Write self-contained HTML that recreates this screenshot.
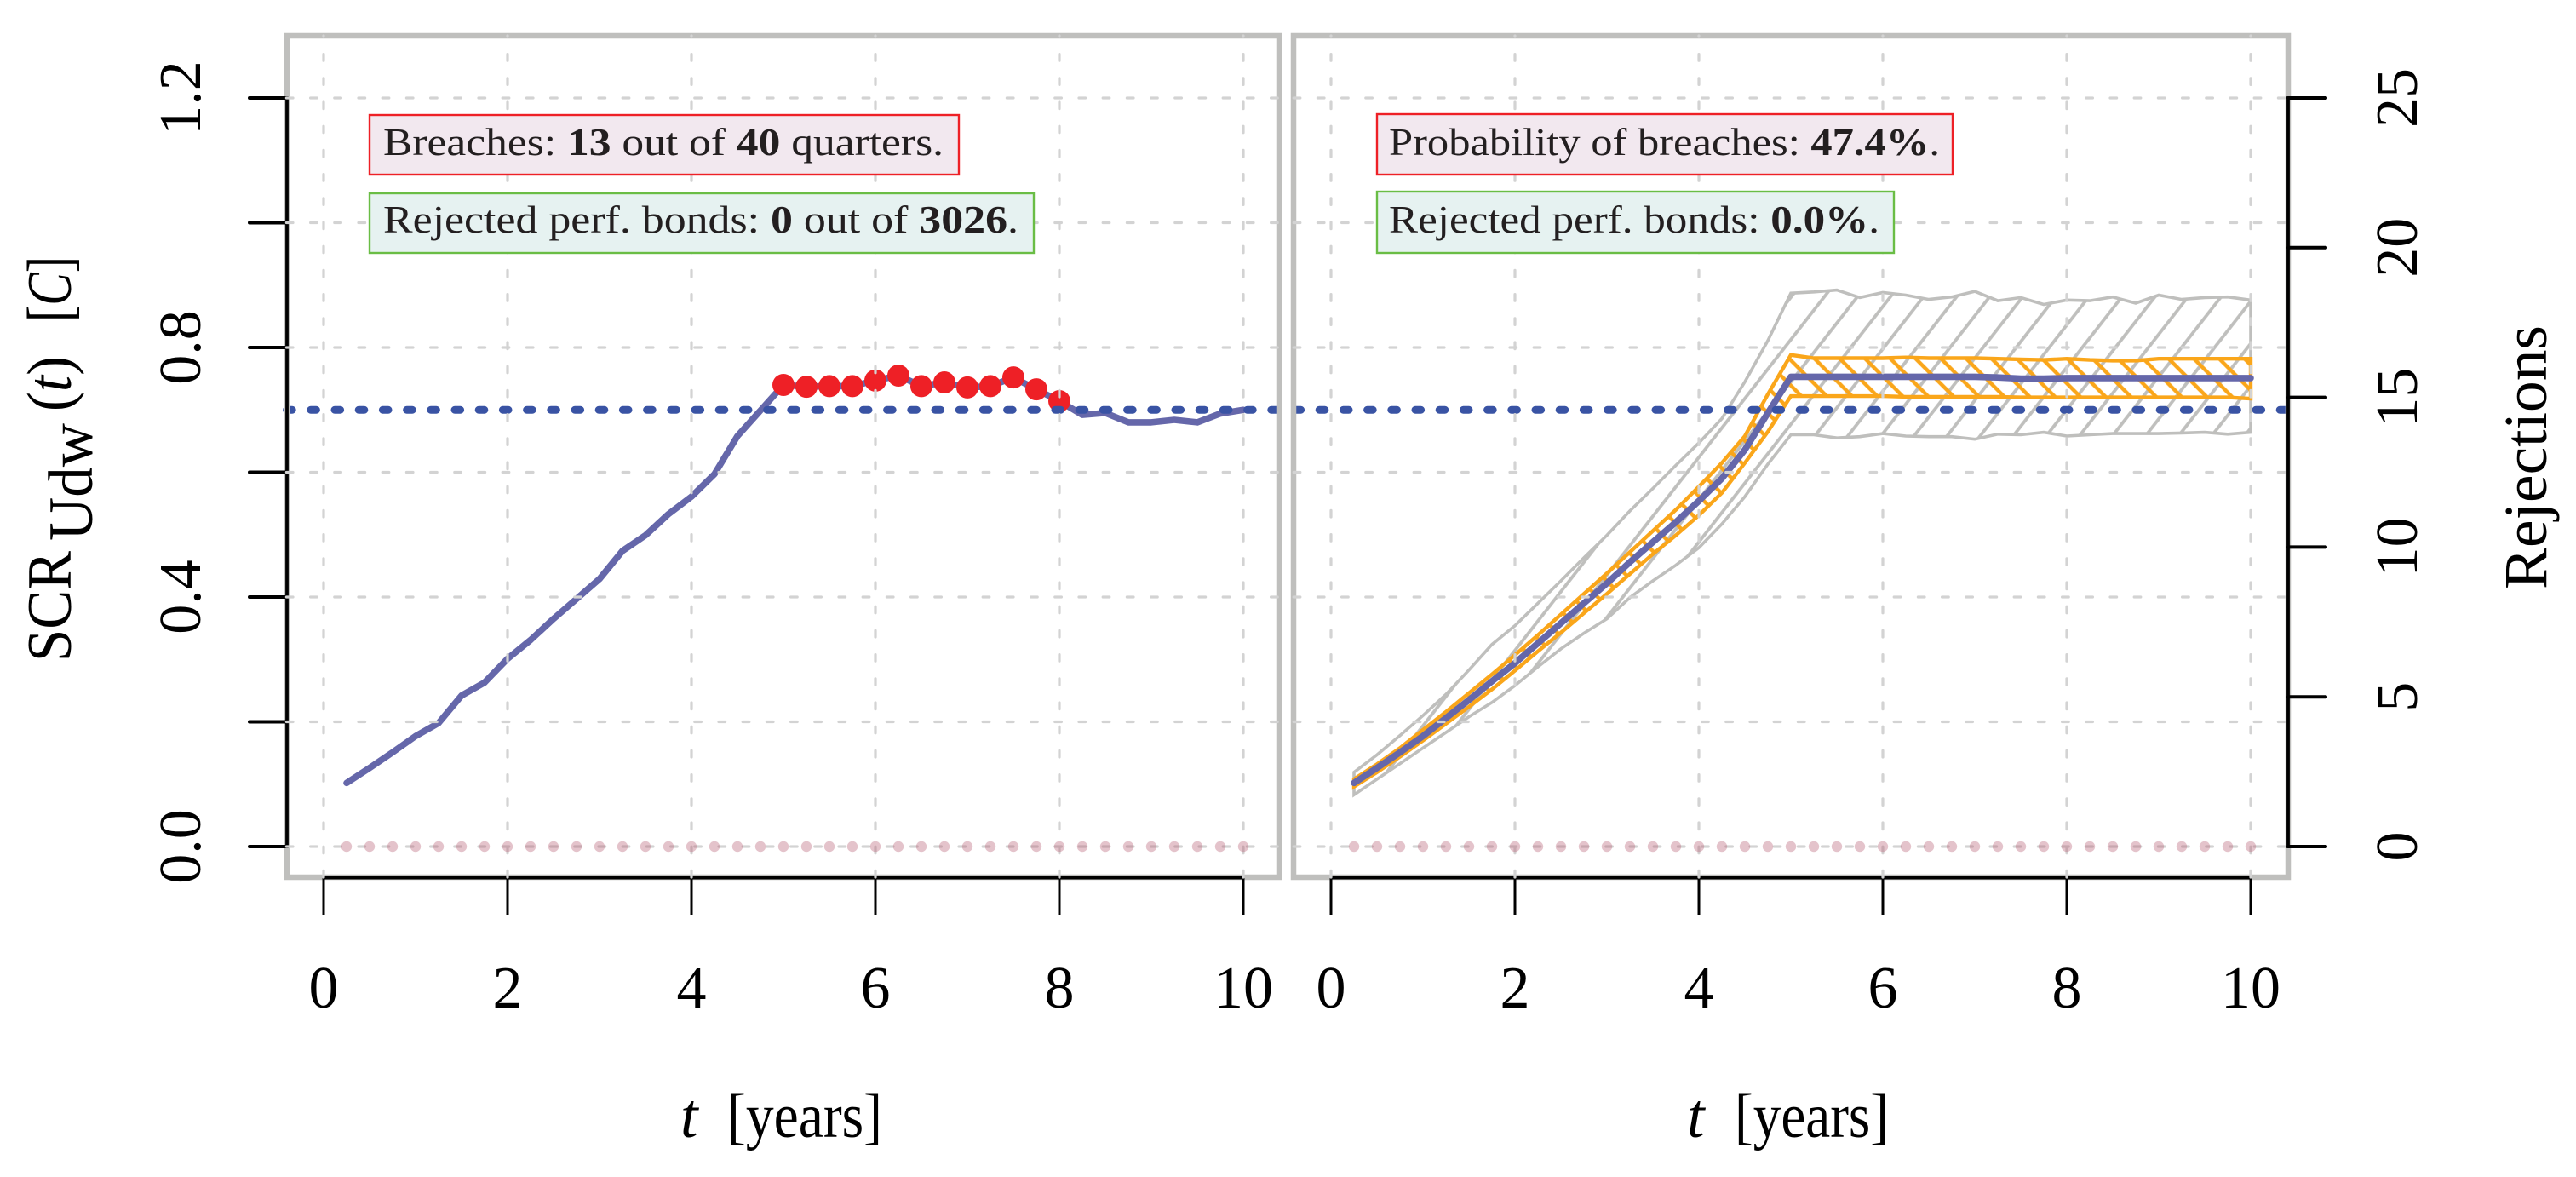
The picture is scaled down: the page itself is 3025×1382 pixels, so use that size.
<!DOCTYPE html>
<html lang="en">
<head>
<meta charset="utf-8">
<title>SCR and rejections over time</title>
<style>
html,body{margin:0;padding:0;background:#fff;}
svg{display:block;}
text{font-family:"Liberation Serif","DejaVu Serif",serif;fill:#000;}
.note{fill:#231f20;font-size:46px;}
.note tspan.b{font-weight:bold;}
</style>
</head>
<body>
<svg id="chart" xmlns="http://www.w3.org/2000/svg" width="3025" height="1382" viewBox="0 0 3025 1382">
  <defs>
    <pattern id="hatch-grey" patternUnits="userSpaceOnUse" width="30.6" height="60" patternTransform="translate(2642,355) rotate(38)">
      <line x1="0" y1="0" x2="0" y2="60" stroke="#bfbfbd" stroke-width="3.8"/>
      <line x1="30.6" y1="0" x2="30.6" y2="60" stroke="#bfbfbd" stroke-width="3.8"/>
    </pattern>
    <pattern id="hatch-orange" patternUnits="userSpaceOnUse" width="21" height="60" patternTransform="translate(2131.4,421.7) rotate(-45)">
      <line x1="0" y1="0" x2="0" y2="60" stroke="#faa61a" stroke-width="4.4"/>
      <line x1="21" y1="0" x2="21" y2="60" stroke="#faa61a" stroke-width="4.4"/>
    </pattern>
  </defs>
  <rect x="0" y="0" width="3025" height="1382" fill="#fff"/>
  <g id="layer-outer-band"></g>
  <g id="layer-inner-band"></g>
  <g id="layer-lines"></g>
  <g id="layer-breaches"></g>
  <g id="layer-threshold"></g>
  <rect x="337" y="42" width="1165" height="988" fill="none" stroke="#bfbfbd" stroke-width="6.5"/>
  <rect x="1519" y="42" width="1168" height="988" fill="none" stroke="#bfbfbd" stroke-width="6.5"/>
  <g id="layer-axes"></g>
  <g id="layer-grid"></g>
  <g id="layer-zero"></g>

  <g>
    <rect x="434" y="135" width="692" height="70" fill="#f2e8ef" stroke="#ee2026" stroke-width="2.4"/>
    <text class="note" x="450" y="182" textLength="658" lengthAdjust="spacingAndGlyphs">Breaches: <tspan class="b">13</tspan> out of <tspan class="b">40</tspan> quarters.</text>
  </g>
  <g>
    <rect x="434" y="227" width="780" height="70" fill="#e6f2f1" stroke="#6abd45" stroke-width="2.4"/>
    <text class="note" x="450" y="273" textLength="746" lengthAdjust="spacingAndGlyphs">Rejected perf. bonds: <tspan class="b">0</tspan> out of <tspan class="b">3026</tspan>.</text>
  </g>
  <g>
    <rect x="1617" y="134" width="676" height="71" fill="#f2e8ef" stroke="#ee2026" stroke-width="2.4"/>
    <text class="note" x="1631" y="182" textLength="647" lengthAdjust="spacingAndGlyphs">Probability of breaches: <tspan class="b">47.4%</tspan>.</text>
  </g>
  <g>
    <rect x="1617" y="225" width="607" height="72" fill="#e6f2f1" stroke="#6abd45" stroke-width="2.4"/>
    <text class="note" x="1631" y="273" textLength="576" lengthAdjust="spacingAndGlyphs">Rejected perf. bonds: <tspan class="b">0.0%</tspan>.</text>
  </g>

  <g font-size="74">
    <text x="83" y="777" transform="rotate(-90 83 777)" textLength="130" lengthAdjust="spacingAndGlyphs">SCR</text>
    <text x="108" y="635" transform="rotate(-90 108 635)" textLength="138" lengthAdjust="spacingAndGlyphs">Udw</text>
    <text x="83" y="483" transform="rotate(-90 83 483)" textLength="65" lengthAdjust="spacingAndGlyphs">(<tspan font-style="italic">t</tspan>)</text>
    <text x="83" y="378" transform="rotate(-90 83 378)" textLength="77" lengthAdjust="spacingAndGlyphs">[<tspan font-style="italic">C</tspan>]</text>
  </g>
  <text x="2990" y="692" font-size="72" transform="rotate(-90 2990 692)" textLength="310" lengthAdjust="spacingAndGlyphs">Rejections</text>
  <g font-size="74">
    <text x="799" y="1335" font-style="italic">t</text>
    <text x="854" y="1335" textLength="182" lengthAdjust="spacingAndGlyphs">[years]</text>
  </g>
  <g font-size="74">
    <text x="1981" y="1335" font-style="italic">t</text>
    <text x="2037" y="1335" textLength="181" lengthAdjust="spacingAndGlyphs">[years]</text>
  </g>
</svg>
<script>
const quarters = [0.25,0.5,0.75,1,1.25,1.5,1.75,2,2.25,2.5,2.75,3,3.25,3.5,3.75,4,4.25,4.5,4.75,5,5.25,5.5,5.75,6,6.25,6.5,6.75,7,7.25,7.5,7.75,8,8.25,8.5,8.75,9,9.25,9.5,9.75,10];
const scrPath = [.102,.126,.151,.177,.198,.242,.263,.301,.331,.365,.397,.429,.474,.499,.533,.561,.597,.658,.699,.740,.737,.738,.738,.747,.755,.738,.744,.736,.738,.752,.733,.714,.692,.695,.680,.680,.684,.680,.694,.700];
const scrMedian = [.102,.126,.151,.177,.206,.235,.265,.294,.326,.358,.390,.422,.456,.488,.520,.554,.590,.636,.695,.753,.753,.753,.753,.753,.753,.753,.753,.753,.752,.750,.750,.751,.751,.751,.751,.751,.751,.751,.751,.751];
const innerUpper = [.108,.132,.158,.187,.216,.246,.276,.307,.339,.372,.405,.438,.472,.506,.540,.577,.615,.658,.725,.788,.783,.783,.783,.783,.784,.783,.783,.783,.782,.781,.780,.782,.780,.779,.779,.782,.782,.782,.782,.782];
const innerLower = [.096,.119,.144,.170,.197,.224,.252,.282,.313,.343,.374,.405,.437,.469,.499,.531,.567,.615,.665,.722,.722,.722,.722,.722,.721,.721,.721,.721,.721,.720,.720,.720,.720,.720,.720,.720,.720,.720,.720,.718];
const outerUpper = [.119,.147,.178,.210,.244,.283,.324,.354,.390,.426,.463,.499,.538,.574,.611,.647,.686,.745,.811,.887,.889,.892,.880,.888,.884,.877,.881,.890,.875,.880,.869,.876,.875,.881,.871,.884,.877,.880,.881,.876];
const outerLower = [.083,.108,.133,.158,.183,.208,.231,.258,.288,.317,.342,.365,.399,.426,.451,.479,.517,.561,.613,.660,.660,.655,.657,.662,.658,.657,.657,.653,.661,.660,.664,.658,.660,.662,.662,.662,.663,.664,.661,.664];
const rejectionsLeft = [0,0,0,0,0,0,0,0,0,0,0,0,0,0,0,0,0,0,0,0,0,0,0,0,0,0,0,0,0,0,0,0,0,0,0,0,0,0,0,0];
const rejectionsRight = [0,0,0,0,0,0,0,0,0,0,0,0,0,0,0,0,0,0,0,0,0,0,0,0,0,0,0,0,0,0,0,0,0,0,0,0,0,0,0,0];
const scrThreshold = 0.7;
const xTickValues = [0,2,4,6,8,10];
const xTickLabels = ["0","2","4","6","8","10"];
const yTickValues = [0,0.2,0.4,0.6,0.8,1,1.2];
const yLabelValues = [0,0.4,0.8,1.2];
const yLabelText = ["0.0","0.4","0.8","1.2"];
const rejTickValues = [0,5,10,15,20,25];
const rejTickLabels = ["0","5","10","15","20","25"];

const NS = 'http://www.w3.org/2000/svg';
const xLeft = t => 380 + 108 * t;
const xRight = t => 1563 + 108 * t;
const yScr = v => 994 - 732.5 * v;
const yRej = v => 994 - 35.16 * v;
const layer = id => document.getElementById(id);
function make(tag, parent, attrs) {
  const node = document.createElementNS(NS, tag);
  for (const k in attrs) node.setAttribute(k, attrs[k]);
  parent.appendChild(node);
  return node;
}
const linePoints = (xs, values, xf, yf) => values.map((v, i) => xf(xs[i]).toFixed(1) + ',' + yf(v).toFixed(1)).join(' ');
const bandPoints = (xs, upper, lower, xf, yf) => linePoints(xs, upper, xf, yf) + ' ' + linePoints(xs, lower, xf, yf).split(' ').reverse().join(' ');
let el;

/* bands, right panel */
el = make('polygon', layer('layer-outer-band'), {points: bandPoints(quarters, outerUpper, outerLower, xRight, yScr), fill: 'url(#hatch-grey)', stroke: '#bfbfbd', 'stroke-width': 3.6, 'stroke-linejoin': 'miter'});


el = make('polygon', layer('layer-inner-band'), {points: bandPoints(quarters, innerUpper, innerLower, xRight, yScr), fill: 'url(#hatch-orange)', stroke: '#faa61a', 'stroke-width': 4.4, 'stroke-linejoin': 'miter'});



/* lines */
el = make('polyline', layer('layer-lines'), {points: linePoints(quarters, scrPath, xLeft, yScr), fill: 'none', stroke: '#6567aa', 'stroke-width': 7.6, 'stroke-linejoin': 'round', 'stroke-linecap': 'round'});


el = make('polyline', layer('layer-lines'), {points: linePoints(quarters, scrMedian, xRight, yScr), fill: 'none', stroke: '#6567aa', 'stroke-width': 7.6, 'stroke-linejoin': 'round', 'stroke-linecap': 'round'});



/* breach points */
scrPath.forEach((v, i) => {
  if (v > scrThreshold) {
    const dot = make('circle', layer('layer-breaches'), {cx: xLeft(quarters[i]), cy: yScr(v), r: 13, fill: '#ee2026'});
    
    
  }
});

/* threshold */
el = make('line', layer('layer-threshold'), {x1: 336.6, x2: 2684, y1: yScr(scrThreshold), y2: yScr(scrThreshold), stroke: '#3953a4', 'stroke-width': 9, 'stroke-linecap': 'round', 'stroke-dasharray': '6.6 21.6'});



/* axes */
const axes = layer('layer-axes');
el = make('line', axes, {x1: 337, x2: 337, y1: yScr(1.2), y2: yScr(0), stroke: '#000', 'stroke-width': 3.8, 'stroke-linecap': 'square'});


el = make('line', axes, {x1: 2687, x2: 2687, y1: yRej(25), y2: yRej(0), stroke: '#000', 'stroke-width': 3.8, 'stroke-linecap': 'square'});


el = make('line', axes, {x1: xLeft(0), x2: xLeft(10), y1: 1030.5, y2: 1030.5, stroke: '#000', 'stroke-width': 4});


el = make('line', axes, {x1: xRight(0), x2: xRight(10), y1: 1030.5, y2: 1030.5, stroke: '#000', 'stroke-width': 4});



yTickValues.forEach(v => {
  const tick = make('line', axes, {x1: 293, x2: 337, y1: yScr(v), y2: yScr(v), stroke: '#000', 'stroke-width': 4, 'stroke-linecap': 'round'});
  
  
});
yLabelValues.forEach((v, i) => {
  const label = make('text', axes, {x: 235, y: yScr(v), 'font-size': 70, 'text-anchor': 'middle', transform: 'rotate(-90 235 ' + yScr(v) + ')'});
  label.textContent = yLabelText[i];
  
  
});
rejTickValues.forEach((v, i) => {
  const tick = make('line', axes, {x1: 2687, x2: 2731, y1: yRej(v), y2: yRej(v), stroke: '#000', 'stroke-width': 4, 'stroke-linecap': 'round'});
  
  
  const label = make('text', axes, {x: 2838, y: yRej(v), 'font-size': 70, 'text-anchor': 'middle', transform: 'rotate(-90 2838 ' + yRej(v) + ')'});
  label.textContent = rejTickLabels[i];
  
  
});
[xLeft, xRight].forEach(xf => {
  xTickValues.forEach((v, i) => {
    const tick = make('line', axes, {x1: xf(v), x2: xf(v), y1: 1030, y2: 1074, stroke: '#000', 'stroke-width': 3});
    
    
    const label = make('text', axes, {x: xf(v), y: 1183, 'font-size': 70, 'text-anchor': 'middle'});
    label.textContent = xTickLabels[i];
    
    
  });
});

/* grid */
const grid = layer('layer-grid');
const gridStyle = {stroke: '#d3d3d3', 'stroke-width': 3.2, 'stroke-linecap': 'round', 'stroke-dasharray': '7.6 20.6'};
[xLeft, xRight].forEach(xf => {
  xTickValues.forEach(v => {
    const g = make('line', grid, Object.assign({x1: xf(v), x2: xf(v), y1: 1030, y2: 42}, gridStyle));
    
    
  });
});
yTickValues.forEach(v => {
  const a = make('line', grid, Object.assign({x1: 336.4, x2: 1502, y1: yScr(v), y2: yScr(v)}, gridStyle));
  
  
  const b = make('line', grid, Object.assign({x1: 1519.2, x2: 2687, y1: yScr(v), y2: yScr(v)}, gridStyle));
  
  
});

/* rejection points */
rejectionsLeft.forEach((v, i) => {
  const dot = make('circle', layer('layer-zero'), {cx: xLeft(quarters[i]), cy: yRej(v), r: 6.2, fill: '#b5596f', 'fill-opacity': 0.36});
  
  
});
rejectionsRight.forEach((v, i) => {
  const dot = make('circle', layer('layer-zero'), {cx: xRight(quarters[i]), cy: yRej(v), r: 6.2, fill: '#b5596f', 'fill-opacity': 0.36});
  
  
});
</script>
</body>
</html>
